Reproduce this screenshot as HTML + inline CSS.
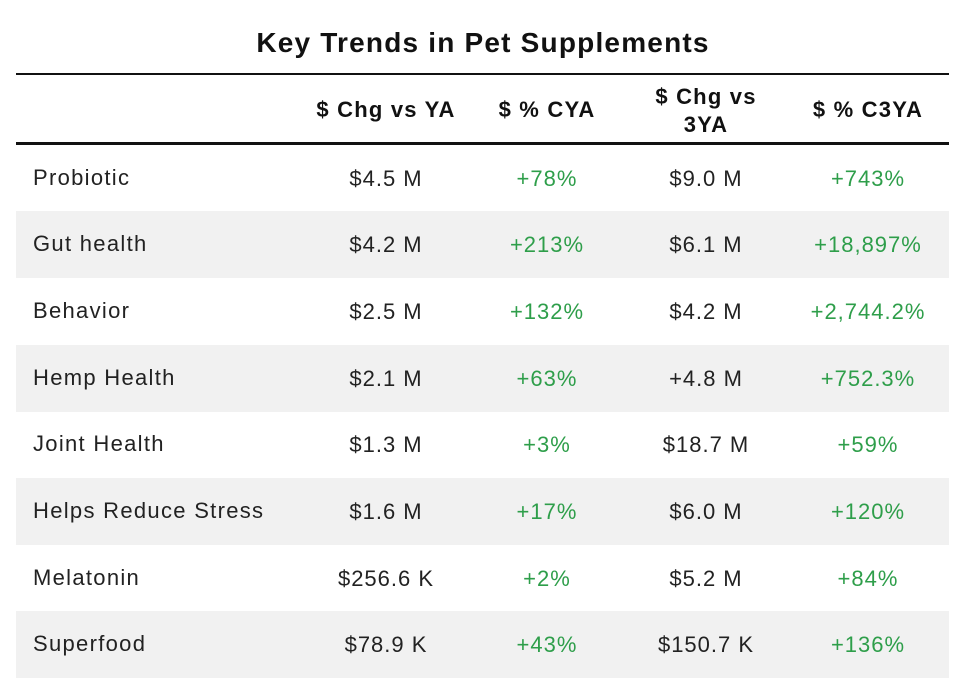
<!DOCTYPE html>
<html><head><style>
body{margin:0;background:#fff;width:966px;height:692px;overflow:hidden;font-family:"Liberation Sans",sans-serif;position:relative}
.title{position:absolute;top:27px;left:0;width:966px;text-align:center;font-weight:bold;font-size:28px;color:#111;letter-spacing:1.2px}
.l1{position:absolute;left:16px;width:933px;top:73px;height:2px;background:#111}
.l2{position:absolute;left:16px;width:933px;top:142px;height:3px;background:#111}
.h{position:absolute;font-weight:bold;font-size:22px;color:#111;text-align:center;width:200px;line-height:28px;letter-spacing:1.2px}
.row{position:absolute;left:16px;width:933px;height:66.7px}
.g{background:#f1f1f1}
.c{position:absolute;font-size:22px;color:#222;text-align:center;width:200px;line-height:68px;top:0;letter-spacing:1px}
.lab{position:absolute;left:17px;font-size:22px;color:#222;line-height:66px;letter-spacing:1.3px}
.gr{color:#2e9e4a}
</style></head><body>
<div class="title">Key Trends in Pet Supplements</div>
<div class="l1"></div>
<div class="h" style="left:286px;top:96px">$ Chg vs YA</div>
<div class="h" style="left:447px;top:96px">$ % CYA</div>
<div class="h" style="left:606px;top:83px">$ Chg vs<br>3YA</div>
<div class="h" style="left:768px;top:96px">$ % C3YA</div>
<div class="l2"></div>
<div class="row" style="top:145px"><span class="lab">Probiotic</span><span class="c" style="left:270px">$4.5 M</span><span class="c gr" style="left:431px">+78%</span><span class="c" style="left:590px">$9.0 M</span><span class="c gr" style="left:752px">+743%</span></div>
<div class="row g" style="top:211px"><span class="lab">Gut health</span><span class="c" style="left:270px">$4.2 M</span><span class="c gr" style="left:431px">+213%</span><span class="c" style="left:590px">$6.1 M</span><span class="c gr" style="left:752px">+18,897%</span></div>
<div class="row" style="top:278px"><span class="lab">Behavior</span><span class="c" style="left:270px">$2.5 M</span><span class="c gr" style="left:431px">+132%</span><span class="c" style="left:590px">$4.2 M</span><span class="c gr" style="left:752px">+2,744.2%</span></div>
<div class="row g" style="top:345px"><span class="lab">Hemp Health</span><span class="c" style="left:270px">$2.1 M</span><span class="c gr" style="left:431px">+63%</span><span class="c" style="left:590px">+4.8 M</span><span class="c gr" style="left:752px">+752.3%</span></div>
<div class="row" style="top:411px"><span class="lab">Joint Health</span><span class="c" style="left:270px">$1.3 M</span><span class="c gr" style="left:431px">+3%</span><span class="c" style="left:590px">$18.7 M</span><span class="c gr" style="left:752px">+59%</span></div>
<div class="row g" style="top:478px"><span class="lab">Helps Reduce Stress</span><span class="c" style="left:270px">$1.6 M</span><span class="c gr" style="left:431px">+17%</span><span class="c" style="left:590px">$6.0 M</span><span class="c gr" style="left:752px">+120%</span></div>
<div class="row" style="top:545px"><span class="lab">Melatonin</span><span class="c" style="left:270px">$256.6 K</span><span class="c gr" style="left:431px">+2%</span><span class="c" style="left:590px">$5.2 M</span><span class="c gr" style="left:752px">+84%</span></div>
<div class="row g" style="top:611px"><span class="lab">Superfood</span><span class="c" style="left:270px">$78.9 K</span><span class="c gr" style="left:431px">+43%</span><span class="c" style="left:590px">$150.7 K</span><span class="c gr" style="left:752px">+136%</span></div>
</body></html>
